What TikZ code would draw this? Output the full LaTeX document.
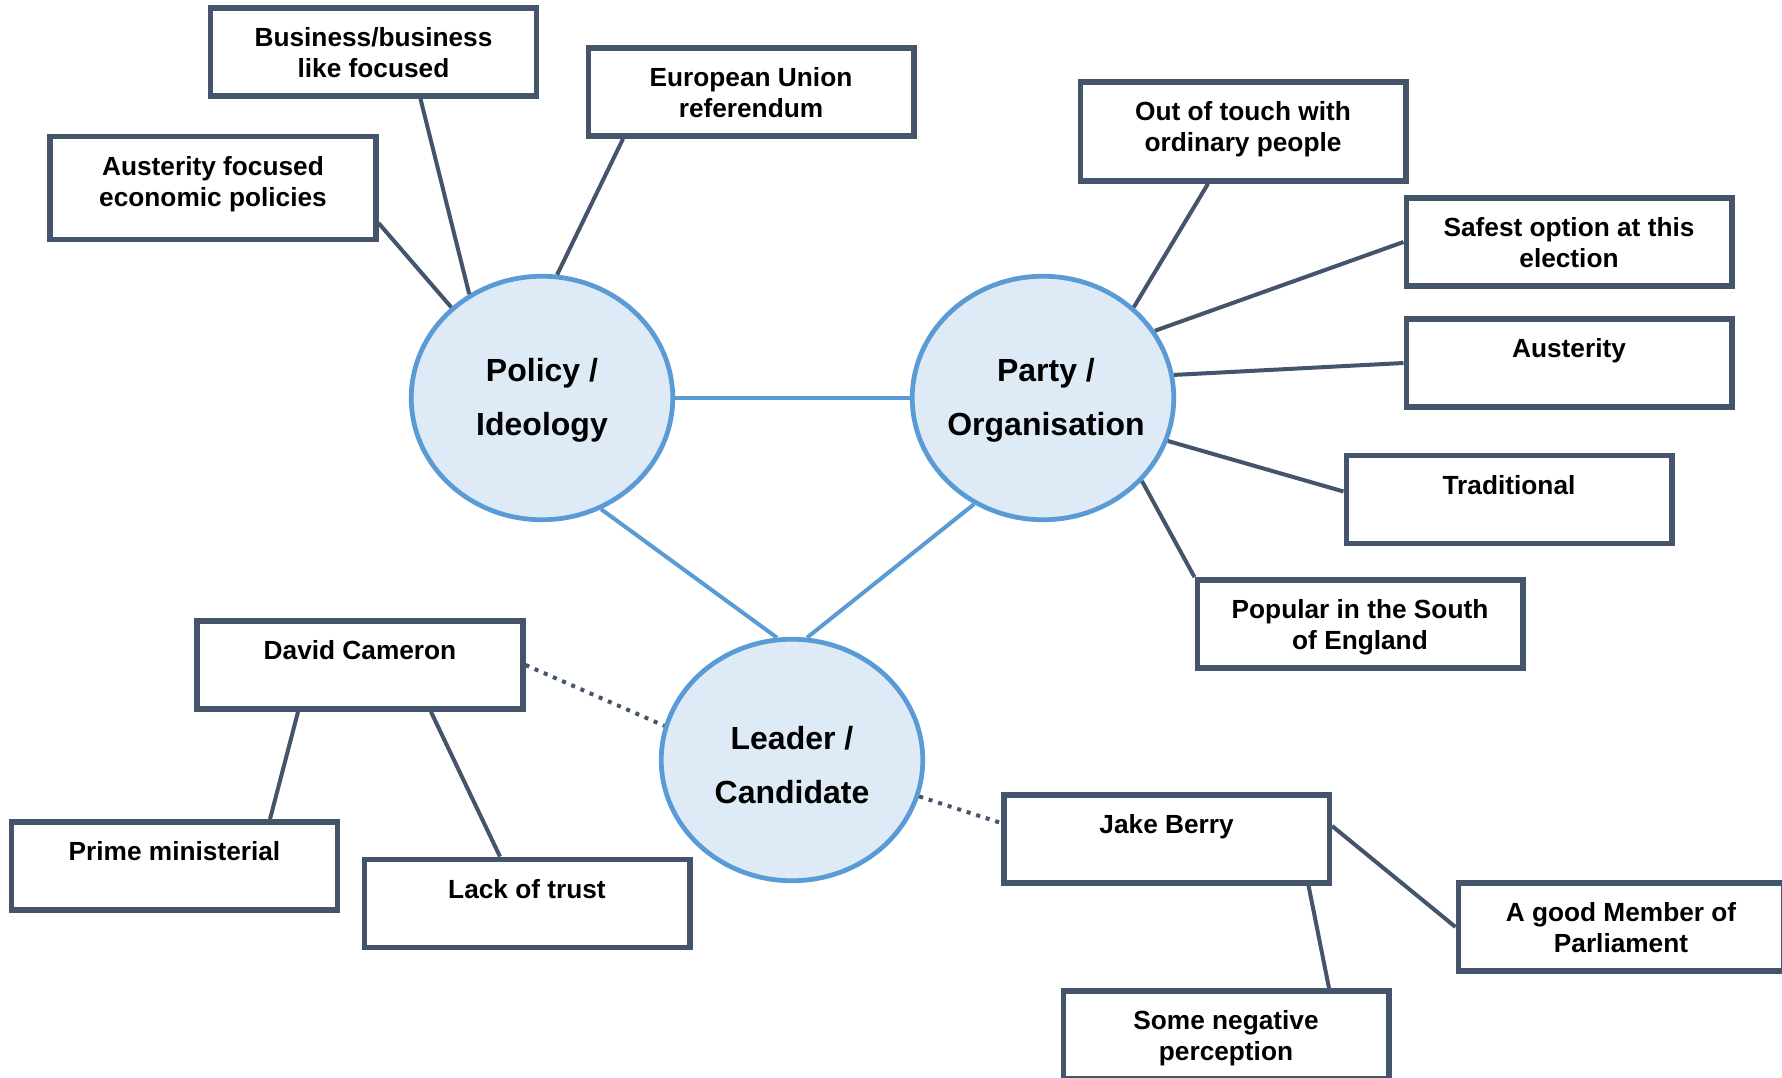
\documentclass[tikz,border=0pt]{standalone}
\usepackage{fontspec}
\setmainfont{Liberation Sans}
\usetikzlibrary{shapes.geometric,calc}
\definecolor{slate}{HTML}{44546A}
\definecolor{hubline}{HTML}{5B9BD5}
\definecolor{hubfill}{HTML}{DEEBF7}
% text of a card: top-aligned, centred lines
\newcommand{\cardtext}[2]{\parbox[c][#1][t]{124pt}{\centering\vspace*{6.85pt}\strut #2}}

\begin{document}
\begin{tikzpicture}[x=0.4pt,y=-0.4pt,
  hub/.style={ellipse, draw=hubline, fill=hubfill, line width=1.9pt,
    minimum width=104.6pt, minimum height=97.4pt, inner sep=0pt},
  hubtext/.style={align=center, inner sep=0pt,
    font=\fontsize{12.8}{21.8}\selectfont\bfseries},
  card/.style={rectangle, draw=slate, fill=white, line width=2.2pt, inner sep=0pt,
    minimum width=130.2pt, font=\fontsize{10.5}{12.4}\selectfont\bfseries},
  spoke/.style={draw=slate, line width=1.6pt},
  link/.style={draw=hubline, line width=1.6pt},
  dotlink/.style={draw=slate, line width=1.6pt, dash pattern=on 1.6pt off 2.4pt}]

\useasboundingbox[fill=white] (0,0) rectangle (1782,1078);

% central themes
\node[hub] (pol) at (542,398) {};
\node[hub] (par) at (1043,398) {};
\node[hub, minimum height=96.6pt] (lead) at (792,760) {};
\node[hubtext] (poltext) at ($(pol.center)+(0,2.5)$) {Policy /\\Ideology};
\node[hubtext] (partext) at ($(par.center)+(3,2.5)$) {Party /\\Organisation};
\node[hubtext] (leadtext) at ($(lead.center)+(0,5)$) {Leader /\\Candidate};

% policy cards
\node[card] (b1) at (373.5,52) {\cardtext{35.3pt}{Business/business\\like focused}};
\node[card] (b2) at (751,92) {\cardtext{35.3pt}{European Union\\referendum}};
\node[card] (b3) at (213,188) {\cardtext{41.2pt}{Austerity focused\\economic policies}};

% party cards
\node[card] (b4) at (1243,131.5) {\cardtext{39.6pt}{Out of touch with\\ordinary people}};
\node[card] (b5) at (1569,242) {\cardtext{35.3pt}{Safest option at this\\election}};
\node[card] (b6) at (1569,363) {\cardtext{35.3pt}{Austerity}};
\node[card] (b7) at (1509,499.5) {\cardtext{35.3pt}{Traditional}};
\node[card] (b8) at (1360,624) {\cardtext{35.3pt}{Popular in the South\\of England}};

% leader cards
\node[card] (b9) at (360,665) {\cardtext{35.3pt}{David Cameron}};
\node[card] (b10) at (174.5,866) {\cardtext{35.3pt}{Prime ministerial}};
\node[card] (b11) at (527,903.5) {\cardtext{35.3pt}{Lack of trust}};
\node[card] (b12) at (1166.6,839) {\cardtext{35.3pt}{Jake Berry}};
\node[card] (b13) at (1621,927) {\cardtext{35.3pt}{A good Member of\\Parliament}};
\node[card] (b14) at (1226,1035) {\cardtext{35.3pt}{Some negative\\perception}};

% links between themes
\draw[link] (pol.east) -- (par.west);
\draw[link] (pol.-62.4) -- (lead.97.9);
\draw[link] (par.-123.6) -- (lead.83.5);

% policy spokes
\draw[spoke] ($(b1.south)+(47,0)$) -- (pol.125.6);
\draw[spoke] ($(b2.south)+(-128,0)$) -- (pol.83);
\draw[spoke] ($(b3.east)+(0,35)$) -- (pol.135);

% party spokes
\draw[spoke] ($(b4.south)+(-35,0)$) -- (par.45.6);
\draw[spoke] (b5.west) -- (par.31.5);
\draw[spoke] (b6.west) -- (par.10.6);
\draw[spoke] ($(b7.west)+(0,-8)$) -- (par.-19.4);
\draw[spoke] (b8.north west) -- (par.-40.6);

% leader spokes
\draw[dotlink] (b9.east) -- (lead.165);
\draw[spoke] ($(b9.south)+(-62,0)$) -- ($(b10.north)+(95.5,0)$);
\draw[spoke] ($(b9.south)+(71,0)$) -- ($(b11.north)+(-27,0)$);
\draw[dotlink] (lead.-16.5) -- ($(b12.west)+(0,-16)$);
\draw[spoke] ($(b12.east)+(0,-13)$) -- (b13.west);
\draw[spoke] ($(b12.south)+(142,0)$) -- ($(b14.north)+(103,0)$);

\end{tikzpicture}
\end{document}
